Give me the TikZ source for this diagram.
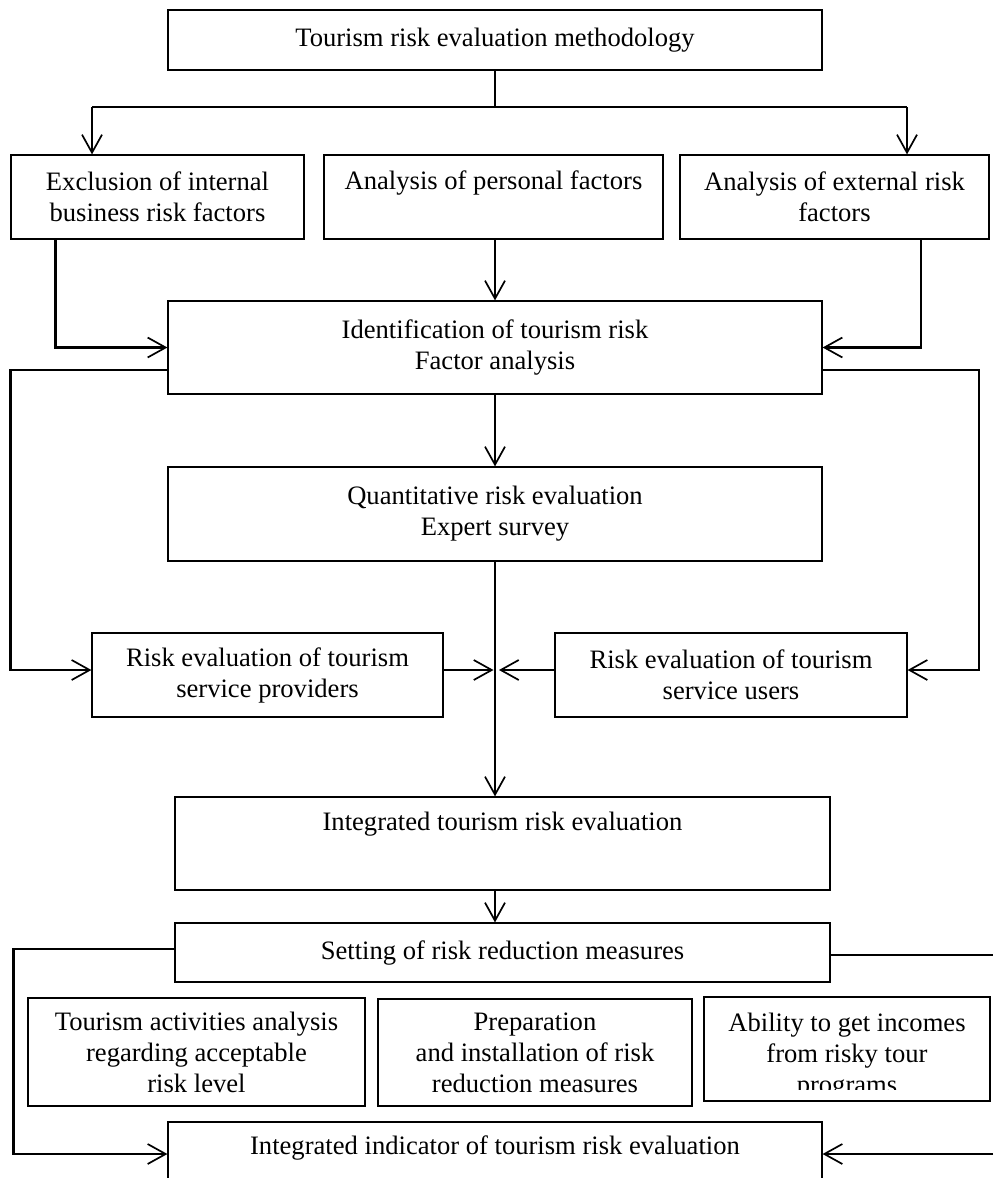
\documentclass[tikz,border=0pt]{standalone}
\usepackage{fontspec}
\setmainfont{Liberation Serif}
\usetikzlibrary{arrows.meta}
\begin{document}
\begin{tikzpicture}[x=0.5pt,y=-0.5pt,
 box/.style={draw, line width=0.6pt, inner sep=0pt, align=center, font=\fontsize{13.3}{15.5}\selectfont},
 wh/.style 2 args={minimum width=#1*0.5pt, minimum height=#2*0.5pt},
 txt/.style={inner sep=0pt, align=center, font=\fontsize{13.3}{15.5}\selectfont},
 line/.style={line width=0.85pt},
 arr/.style={line width=0.85pt, -{Straight Barb[length=9pt,width=10pt,line width=0.85pt]}},
 heavy/.style={line width=1.1pt}]
\useasboundingbox (0,0) rectangle (993,1178);
\clip (0,0) rectangle (993,1178);

\node[box, wh={654}{60}] (top) at (495,40) {Tourism risk evaluation methodology};
\node[box, wh={293}{84}] (b1) at (157.5,197) {Exclusion of internal\\business risk factors};
\node[box, wh={339}{84}] (b2) at (493.5,197) {};
\node[txt] (b2t) at (493.5,183) {Analysis of personal factors};
\node[box, wh={309}{84}] (b3) at (834.5,197) {Analysis of external risk\\factors};
\node[box, wh={654}{93}] (ident) at (495,347.5) {Identification of tourism risk\\Factor analysis};
\node[box, wh={654}{94}] (quant) at (495,514) {Quantitative risk evaluation\\Expert survey};
\node[box, wh={351}{84}] (prov) at (267.5,675) {Risk evaluation of tourism\\service providers};
\node[box, wh={352}{84}] (users) at (731,675) {Risk evaluation of tourism\\service users};
\node[box, wh={655}{93}] (integ) at (502.5,843.5) {};
\node[txt] (integt) at (502.5,824) {Integrated tourism risk evaluation};
\node[box, wh={655}{59}] (setting) at (502.5,952.5) {Setting of risk reduction measures};
\node[box, wh={337}{108}] (ma) at (196.5,1052) {Tourism activities analysis\\regarding acceptable\\risk level};
\node[box, wh={314}{107}] (mb) at (535,1052.5) {Preparation\\and installation of risk\\reduction measures};
\node[box, wh={286}{104}] (mc) at (847,1049) {};
\begin{scope}
\clip (mc.north west) rectangle ([shift={(0,-12)}]mc.south east);
\node[txt] (mct) at (847,1056) {Ability to get incomes\\from risky tour\\programs};
\end{scope}
\node[box, wh={654}{90}] (bottom) at (495,1167) {};
\node[txt] (bottomt) at (495,1148) {Integrated indicator of tourism risk evaluation};

\coordinate (split) at (495,107);
\coordinate (sl) at (92,107);
\coordinate (sr) at (907,107);
\draw[line] (top.south) -- (split);
\draw[line] (sl) -- (sr);
\draw[arr] (sl) -- (sl |- b1.north);
\draw[arr] (sr) -- (sr |- b3.north);
\draw[arr, heavy] ([shift={(45,0)}]b1.south west) |- (ident.west);
\draw[arr, heavy] ([shift={(-69,0)}]b3.south east) |- (ident.east);
\draw[arr] (split |- b2.south) -- (split |- ident.north);
\draw[arr, heavy] ([shift={(0,-25)}]ident.south west) -| ([shift={(-81,-5)}]prov.west) -- ([shift={(0,-5)}]prov.west);
\draw[arr, heavy] ([shift={(0,-25)}]ident.south east) -| ([shift={(71,-5)}]users.east) -- ([shift={(0,-5)}]users.east);
\draw[arr] (ident.south) -- (quant.north);
\coordinate (j) at (495,670);
\draw[arr] (quant.south) -- (quant.south |- integ.north);
\draw[arr, heavy] ([shift={(0,-5)}]prov.east) -- ([shift={(-1.5,0)}]j);
\draw[arr, heavy] ([shift={(0,-5)}]users.west) -- ([shift={(4,0)}]j);
\draw[arr] (quant.south |- integ.south) -- (quant.south |- setting.north);
\draw[arr, heavy] ([shift={(0,-3.5)}]setting.west) -| ([shift={(-154,-13)}]bottom.west) -- ([shift={(0,-13)}]bottom.west);
\coordinate (re) at (993,955);
\draw[line, heavy] ([shift={(0,2.5)}]setting.east) -- (re);
\coordinate (rb) at (993,1154);
\draw[arr, heavy] (rb) -- ([shift={(0,-13)}]bottom.east);
\end{tikzpicture}
\end{document}
